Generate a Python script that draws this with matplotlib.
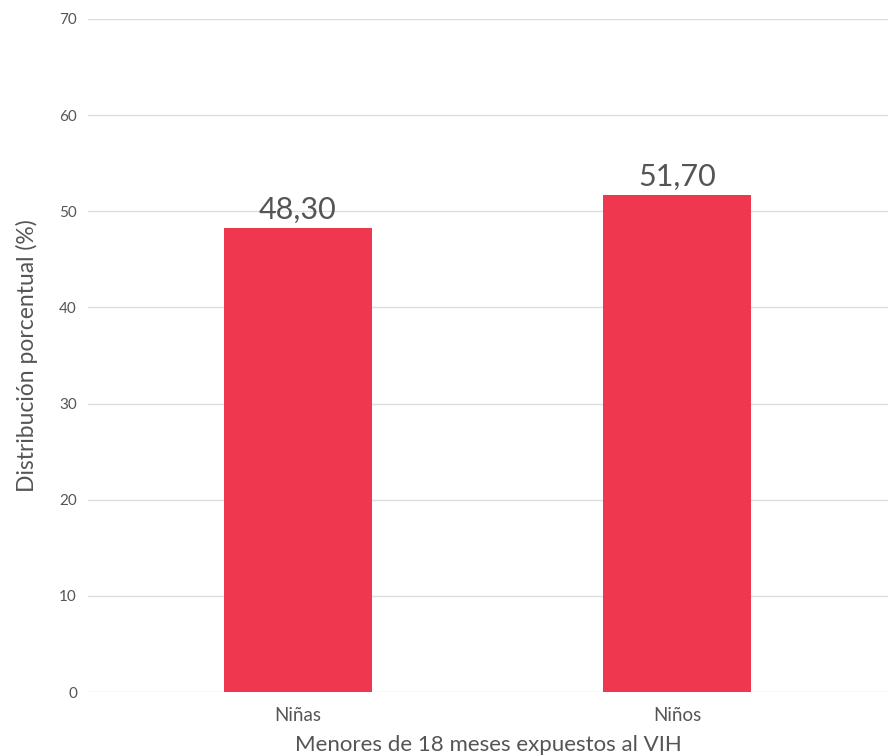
import matplotlib
matplotlib.use("Agg")
import matplotlib.pyplot as plt

categories = ["Niñas", "Niños"]
values = [48.30, 51.70]
value_labels = ["48,30", "51,70"]
yticks = [0, 10, 20, 30, 40, 50, 60, 70]

plt.rcParams['font.family'] = ['Lato', 'DejaVu Sans']
text_color = "#555555"

fig = plt.figure(figsize=(8.88, 7.56), dpi=100)
ax = fig.add_axes([88/888, 1-692/756, 800/888, (692-19)/756])

x = list(range(len(categories)))
bars = ax.bar(x, values, width=0.39, color="#EF374F", zorder=3)
for xi, v, lab in zip(x, values, value_labels):
    ax.annotate(lab, (xi, v), xytext=(0, 3), textcoords="offset points",
                ha="center", va="bottom", fontsize=22, color=text_color, zorder=4)

ax.set_xlim(-0.554, 1.557)
ax.set_ylim(0, 70)
ax.set_yticks(yticks)
ax.set_yticklabels([str(t) for t in yticks], fontsize=11, color=text_color)
ax.set_xticks(x)
ax.set_xticklabels(categories, fontsize=13.5, color=text_color)
ax.grid(axis="y", color="#dddddd", linewidth=1, zorder=0)
ax.tick_params(axis="y", length=0, pad=8)
ax.tick_params(axis="x", length=0, pad=11)
for s in ax.spines.values():
    s.set_visible(False)

ax.set_xlabel("Menores de 18 meses expuestos al VIH", fontsize=16, color=text_color, labelpad=8)
ax.set_ylabel("Distribución porcentual (%)", fontsize=16.5, color=text_color, labelpad=15)

fig.savefig("out.png", dpi=100)
